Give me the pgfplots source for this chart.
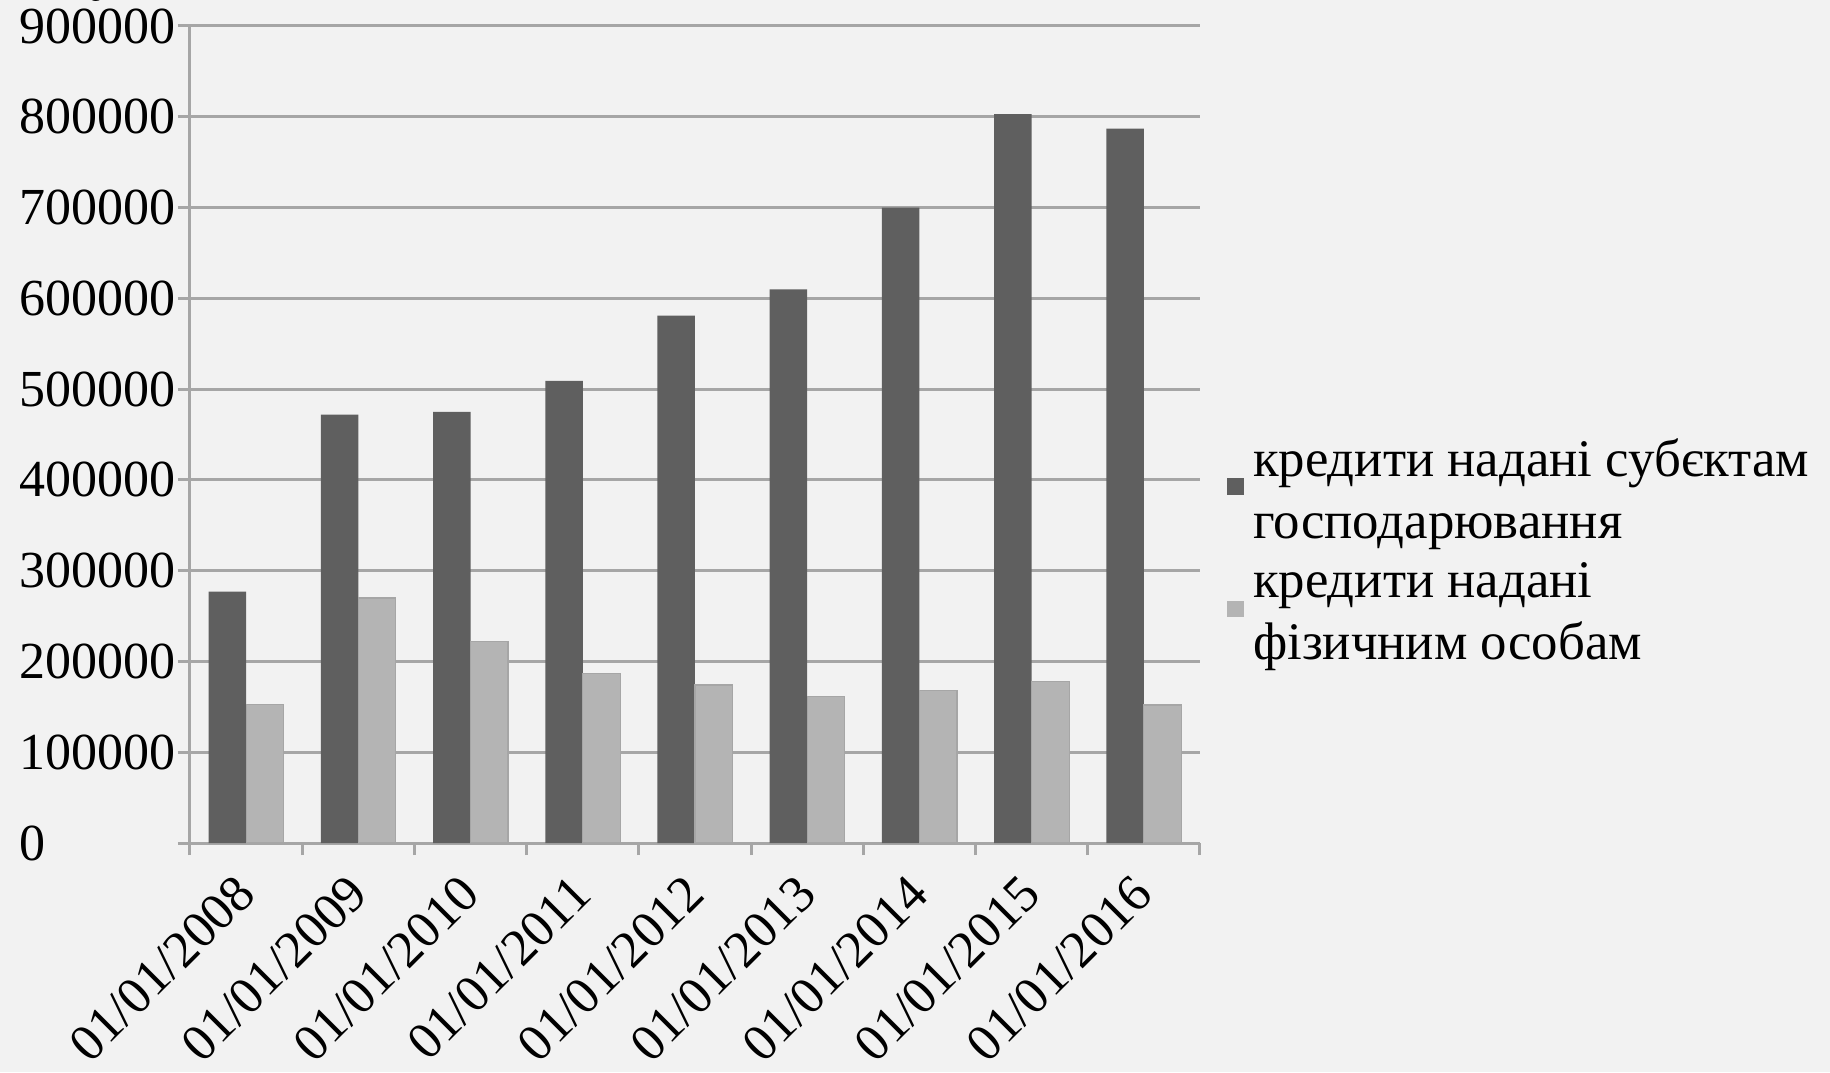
\documentclass[border=0pt]{standalone}
\usepackage{pgfplots}
\pgfplotsset{compat=1.18}
\usepackage{fontspec}
\setmainfont{Liberation Serif}
\definecolor{bg}{HTML}{F2F2F2}
\definecolor{darkbar}{HTML}{5F5F5F}
\definecolor{lightbar}{HTML}{B4B4B4}
\definecolor{gridc}{HTML}{A6A6A6}
\begin{document}
\fontsize{13}{15.5}\selectfont
\begin{tikzpicture}
\path[use as bounding box, fill=bg] (-47.5pt,-57.25pt) rectangle (410pt,210.75pt);
\begin{axis}[
  at={(0pt,0pt)}, anchor=south west,
  scale only axis, width=252.5pt, height=204.25pt,
  ybar=0pt, bar width=9.375pt,
  xmin=-0.5, xmax=8.5, ymin=0, ymax=900000,
  axis lines*=left,
  axis line style={gridc, line width=0.75pt},
  ymajorgrids, grid style={gridc, line width=0.75pt},
  tick align=outside, major tick length=3pt,
  tick style={gridc, line width=0.75pt},
  ytick={0,100000,200000,300000,400000,500000,600000,700000,800000,900000},
  yticklabels={0,100000,200000,300000,400000,500000,600000,700000,800000,900000},
  yticklabel style={anchor=west, inner sep=0pt, xshift=-39.75pt, font=\fontsize{13}{15.5}\selectfont},
  xtick={-0.5,0.5,1.5,2.5,3.5,4.5,5.5,6.5,7.5,8.5},
  x tick label as interval=true,
  xticklabels={01/01/2008,01/01/2009,01/01/2010,01/01/2011,01/01/2012,01/01/2013,01/01/2014,01/01/2015,01/01/2016},
  xticklabel style={yshift=-7.3pt, rotate=45, anchor=east, inner sep=0pt, font=\fontsize{13}{15.5}\selectfont},
  legend style={at={(rel axis cs:1.0257,0.506)}, anchor=north west, draw=none, fill=none,
    inner sep=0pt, row sep=0pt, column sep=0.3pt,
    cells={align=left, anchor=west}, font=\fontsize{13.2}{15.6}\selectfont},
  legend image code/.code={\fill[#1, draw=none] (0pt,-0.6pt) rectangle (4.3pt,3.5pt);},
]
\addplot[fill=darkbar, draw=none] coordinates {
(0,277000) (1,472000) (2,475000) (3,509000) (4,581000) (5,610000) (6,700000) (7,803000) (8,787000)};
\addlegendentry{кредити надані субєктам\\господарювання}
\addplot[fill=lightbar, draw=black!35, line width=0.3pt] coordinates {
(0,153000) (1,270000) (2,222000) (3,187000) (4,174000) (5,161000) (6,168000) (7,178000) (8,152000)};
\addlegendentry{кредити надані\\фізичним особам}
\end{axis}
\end{tikzpicture}
\end{document}
